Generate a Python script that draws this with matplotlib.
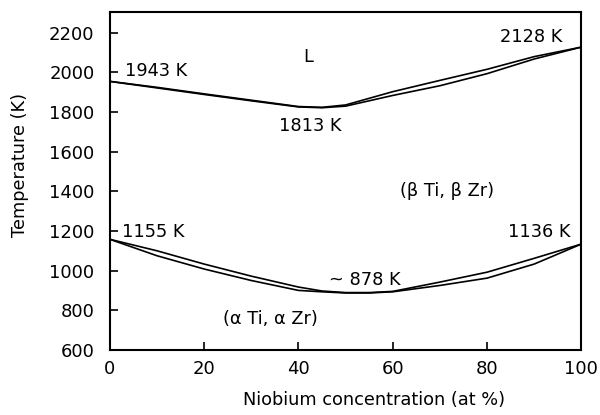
import matplotlib
matplotlib.use("Agg")
import matplotlib.pyplot as plt

# upper lens (liquidus / solidus)
nb_upper = [0, 10, 20, 30, 40, 45, 50, 60, 70, 80, 90, 100]
liquidus = [1955, 1925, 1892, 1860, 1828, 1824, 1836, 1903, 1960, 2016, 2080, 2128]
solidus = [1955, 1922, 1889, 1857, 1826, 1822, 1830, 1884, 1933, 1994, 2068, 2128]

# lower lens (beta / alpha transition)
nb_lower = [0, 10, 20, 30, 40, 45, 50, 55, 60, 70, 80, 90, 100]
beta_line = [1158, 1100, 1033, 972, 917, 897, 889, 889, 895, 942, 992, 1062, 1134]
alpha_line = [1158, 1075, 1008, 950, 900, 893, 887, 887, 893, 925, 962, 1033, 1134]

labels = ["L", "1943 K", "1813 K", "2128 K", "(\u03b2 Ti, \u03b2 Zr)",
          "1155 K", "1136 K", "~ 878 K", "(\u03b1 Ti, \u03b1 Zr)"]
label_x = [42, 3.3, 42.5, 89.3, 71.5, 2.6, 91, 54, 34]
label_y = [2080, 2005, 1730, 2180, 1400, 1195, 1195, 955, 757]
label_ha = ["center", "left", "center", "center", "center", "left", "center", "center", "center"]

plt.rcParams['font.family'] = ['DejaVu Sans']
fig = plt.figure(figsize=(6, 4.15), dpi=100)
ax = fig.add_axes([0.183, 0.157, 0.786, 0.814])

for xs, ys in [(nb_upper, liquidus), (nb_upper, solidus),
               (nb_lower, beta_line), (nb_lower, alpha_line)]:
    ax.plot(xs, ys, color="black", lw=1.2)

for t, x, y, ha in zip(labels, label_x, label_y, label_ha):
    ax.text(x, y, t, ha=ha, va="center", fontsize=12.8)

ax.set_xlim(0, 100)
ax.set_ylim(600, 2305)
ax.set_xticks(range(0, 101, 20))
ax.set_yticks(range(600, 2201, 200))
ax.tick_params(direction="in", length=5.5, width=1.2, labelsize=13)
ax.tick_params(axis="y", pad=11)
ax.tick_params(axis="x", pad=7.5)
for s in ax.spines.values():
    s.set_linewidth(1.5)

ax.set_xlabel("Niobium concentration (at %)", fontsize=12.8)
ax.set_ylabel("Temperature (K)", fontsize=12.8)
ax.xaxis.set_label_coords(0.56, -0.122)
ax.yaxis.set_label_coords(-0.172, 0.547)

fig.savefig("out.png", dpi=100)
